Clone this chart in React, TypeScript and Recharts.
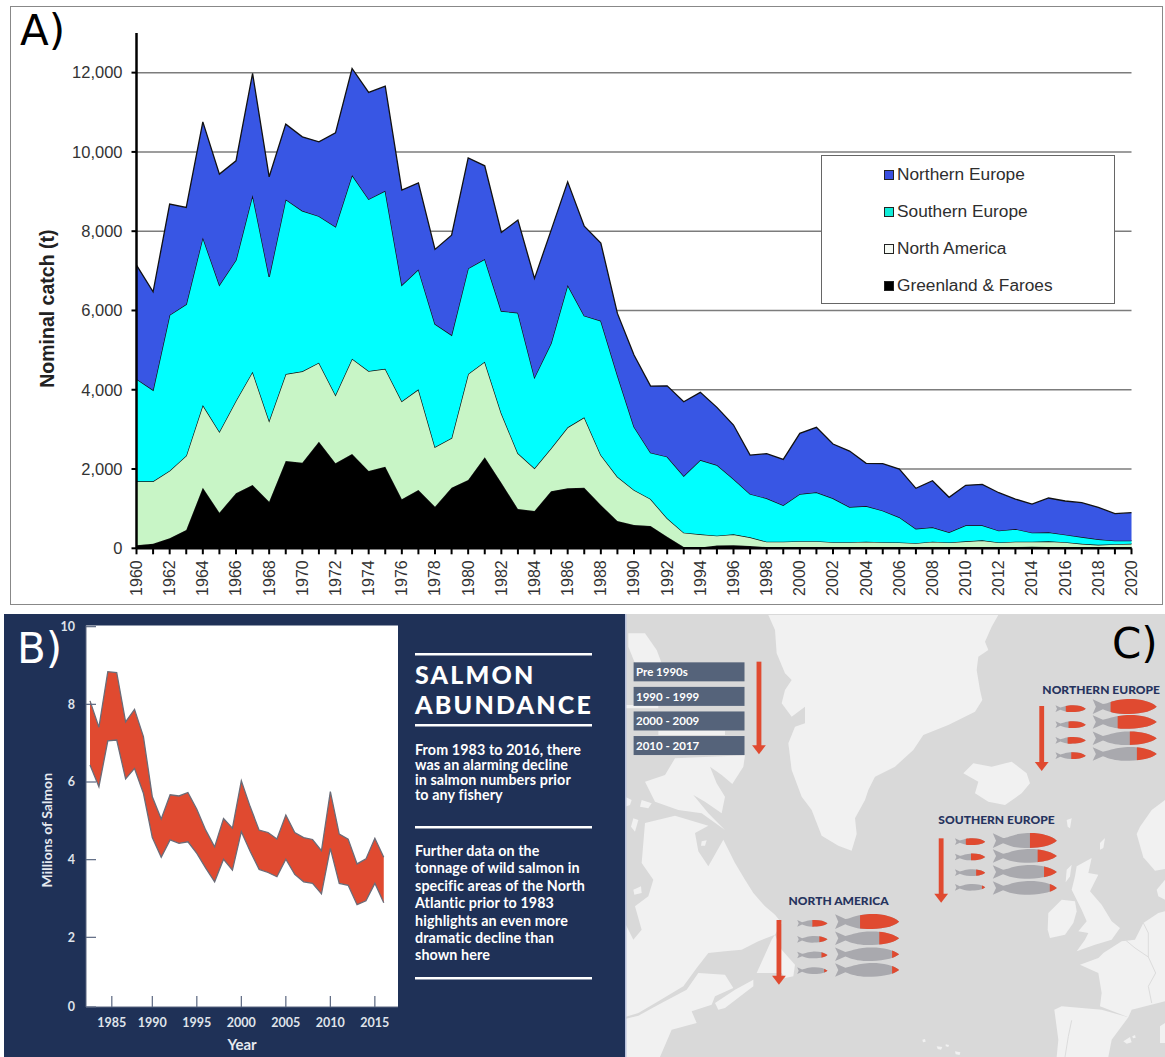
import React from "react";
import {
  AreaChart,
  Area,
  XAxis,
  YAxis,
  CartesianGrid,
  Legend,
} from "recharts";

// ---------- Panel A data (tonnes) ----------
const catchYears = [
  1960, 1961, 1962, 1963, 1964, 1965, 1966, 1967, 1968, 1969, 1970, 1971, 1972, 1973, 1974, 1975,
  1976, 1977, 1978, 1979, 1980, 1981, 1982, 1983, 1984, 1985, 1986, 1987, 1988, 1989, 1990, 1991,
  1992, 1993, 1994, 1995, 1996, 1997, 1998, 1999, 2000, 2001, 2002, 2003, 2004, 2005, 2006, 2007,
  2008, 2009, 2010, 2011, 2012, 2013, 2014, 2015, 2016, 2017, 2018, 2019, 2020,
];
const greenlandFaroes = [
  75, 116, 252, 461, 1528, 898, 1387, 1596, 1175, 2202, 2159, 2688, 2143, 2378, 1949, 2058,
  1236, 1470, 1049, 1528, 1722, 2295, 1654, 991, 941, 1437, 1513, 1528, 1092, 688, 588, 562,
  293, 30, 20, 70, 80, 55, 30, 30, 30, 30, 30, 30, 30, 30, 30, 30,
  30, 30, 30, 30, 30, 30, 40, 30, 30, 20, 20, 20, 20,
];
const northAmerica = [
  1615, 1574, 1705, 1874, 2086, 2043, 2336, 2858, 2043, 2194, 2305, 1993, 1723, 2404, 2522, 2472,
  2471, 2540, 1506, 1254, 2674, 2411, 1751, 1405, 1077, 1085, 1539, 1776, 1261, 1118, 882, 681,
  464, 363, 333, 248, 273, 222, 136, 136, 150, 150, 125, 125, 136, 125, 117, 100,
  136, 117, 145, 170, 117, 136, 126, 145, 125, 95, 70, 85, 95,
];
const southernEurope = [
  2580, 2302, 3927, 3819, 4229, 3699, 3548, 4456, 3632, 4405, 4050, 3699, 4245, 4633, 4338, 4489,
  2933, 3026, 3102, 2597, 2665, 2590, 2580, 3546, 2294, 2648, 3588, 2562, 3387, 2560, 1597, 1168,
  1553, 1430, 1874, 1782, 1395, 1092, 1095, 918, 1189, 1232, 1106, 887, 901, 793, 635, 364,
  364, 256, 405, 380, 297, 321, 227, 228, 188, 170, 137, 87, 77,
];
const northernEurope = [
  2875, 2480, 2799, 2446, 2916, 2800, 2504, 3069, 2522, 1899, 1867, 1874, 2371, 2690, 2691, 2640,
  2396, 2184, 1883, 2521, 2789, 2354, 1984, 2338, 2497, 2850, 2605, 2259, 1960, 1560, 1808, 1682,
  1790, 1874, 1707, 1456, 1362, 984, 1125, 1160, 1531, 1639, 1369, 1412, 1076, 1186, 1218, 1019,
  1175, 883, 1009, 1034, 958, 756, 724, 866, 850, 865, 807, 681, 706,
];
const catchTicks = [0, 2000, 4000, 6000, 8000, 10000, 12000];
const legendNames = ["Northern Europe", "Southern Europe", "North America", "Greenland & Faroes"];
const areaColors = ["#3856e4", "#00ffff", "#c8f5c6", "#000000"];
const legendSwatches = ["#3a4fe0", "#10ecd8", "#f6faf4", "#000000"];

const catchTable = catchYears.map((year, i) => ({
  year,
  greenland: greenlandFaroes[i],
  america: northAmerica[i],
  southern: southernEurope[i],
  northern: northernEurope[i],
}));

// ---------- Panel B data (millions of salmon) ----------
const abundanceYears = [
  1983, 1984, 1985, 1986, 1987, 1988, 1989, 1990, 1991, 1992, 1993, 1994, 1995, 1996, 1997, 1998, 1999,
  2000, 2001, 2002, 2003, 2004, 2005, 2006, 2007, 2008, 2009, 2010, 2011, 2012, 2013, 2014, 2015, 2016,
];
const abundanceHigh = [
  8.09, 7.41, 8.84, 8.82, 7.55, 7.87, 7.17, 5.62, 5.05, 5.67, 5.64, 5.73, 5.3, 4.76, 4.33, 5.06, 4.81,
  6.03, 5.36, 4.76, 4.7, 4.53, 5.15, 4.7, 4.57, 4.52, 4.23, 5.75, 4.66, 4.53, 3.89, 4.02, 4.55, 4.06,
];
const abundanceLow = [
  6.44, 5.88, 7.06, 7.08, 6.08, 6.35, 5.71, 4.57, 4.06, 4.51, 4.42, 4.46, 4.16, 3.78, 3.43, 4.01, 3.73,
  4.72, 4.21, 3.75, 3.67, 3.56, 4.01, 3.62, 3.43, 3.39, 3.12, 4.29, 3.39, 3.34, 2.84, 2.94, 3.39, 2.89,
];
const abundanceTable = abundanceYears.map((year, i) => ({
  year,
  range: [abundanceLow[i], abundanceHigh[i]],
}));
const abundanceYTicks = [0.206, 2, 4, 6, 8, 10];
const abundanceXTicks = [1985.45, 1990, 1995, 2000, 2005, 2010, 2015];

const paraOne = [
  "From 1983 to 2016, there",
  "was an alarming decline",
  "in salmon numbers prior",
  "to any fishery",
];
const paraTwo = [
  "Further data on the",
  "tonnage of wild salmon in",
  "specific areas of the North",
  "Atlantic prior to 1983",
  "highlights an even more",
  "dramatic decline than",
  "shown here",
];

// ---------- Panel C data ----------
const periods = ["Pre 1990s", "1990 - 1999", "2000 - 2009", "2010 - 2017"];
const regions = [
  {
    name: "NORTHERN EUROPE",
    labelX: 1212,
    labelY: 237,
    arrow: [1210, 288, 483],
    smallX: 1250,
    largeX: 1358,
    smallY: [296, 344, 391, 437],
    largeY: [290, 336, 385, 432],
    smallRed: [0.66, 0.57, 0.6, 0.48],
    largeRed: [0.72, 0.61, 0.42, 0.31],
  },
  {
    name: "SOUTHERN EUROPE",
    labelX: 910,
    labelY: 629,
    arrow: [918, 685, 878],
    smallX: 958,
    largeX: 1068,
    smallY: [695, 741, 788, 832],
    largeY: [692, 738, 786, 834],
    smallRed: [0.64, 0.47, 0.3, 0.11],
    largeRed: [0.42, 0.3, 0.2, 0.11],
  },
  {
    name: "NORTH AMERICA",
    labelX: 475,
    labelY: 872,
    arrow: [447, 930, 1124],
    smallX: 500,
    largeX: 610,
    smallY: [940, 988, 1035, 1082],
    largeY: [935, 985, 1033, 1080],
    smallRed: [0.5, 0.27, 0.2, 0.11],
    largeRed: [0.61, 0.31, 0.11, 0.11],
  },
];

// Map outlines: each group is drawn at (x, y) with a scale of one third.
const landNorthWest = [
  "430,15 1120,15 1100,50 1080,95 1090,120 1060,140 1055,180 1065,240 1072,270 1050,305 970,345 895,375 865,420 810,470 750,500 730,540 720,570 690,625 695,672 680,722 640,707 590,677 560,600 530,560 500,480 490,400 510,350 540,340 540,290 500,320 470,280 480,240 500,210 480,190 455,130 450,60",
  "10,70 60,70 95,120 110,160 30,160 10,110",
  "0,285 100,285 100,295 0,295",
  "100,362 300,362 300,375 100,375",
  "60,515 120,495 150,445 360,436 355,470 322,522 290,495 255,470 275,520 300,560 290,610 240,575 205,555 250,610 300,660 230,610 160,600 90,575",
  "0,560 20,570 15,585 0,590",
  "50,570 80,580 70,595 45,590",
  "25,625 40,630 30,665 18,650",
];
const landNorthAmerica = [
  "60,-30 150,-52 250,-22 210,0 220,55 250,100 295,20 330,90 360,140 385,180 420,220 450,245 470,270 450,305 400,325 350,350 300,355 250,360 215,405 175,460 100,505 40,540 0,552 0,270 25,320 50,290 30,220 70,190 85,140 50,90",
  "40,548 100,515 185,470 220,420 300,425 325,465 270,490 260,515 200,535 215,570 140,590 105,672 0,672 0,558",
  "395,420 440,320 450,305 470,350 510,395 505,430 480,435 470,420",
  "270,510 330,470 385,440 385,460 300,525 280,530",
  "230,25 245,22 240,38 228,38",
  "25,170 48,160 50,180 28,185",
];
const landNorthEast = [
  "205,490 235,460 290,470 350,455 395,490 405,520 380,550 330,585 280,575 240,550 250,515",
  "515,630 530,625 525,655 518,650",
  "810,570 770,600 735,650 725,672 745,742 780,782 810,777",
];
const landSouthEast = [
  "545,100 590,75 580,120 610,125 585,175 620,215 650,265 675,285 650,320 600,335 545,355 570,320 580,300 550,295 575,265 560,230 530,170 540,130",
  "515,110 530,95 525,130 512,148",
  "460,240 500,200 540,205 545,235 535,270 510,305 465,315 458,290",
  "555,395 610,375 625,360 680,325 720,320 745,270 790,240 810,235 810,505 710,530 700,553 615,520 620,480 610,420",
  "478,530 500,520 620,530 700,553 650,620 640,672 485,672 490,620",
  "785,170 810,140 810,200 790,190",
  "615,30 630,15 625,45 615,50",
  "795,580 810,570 810,630 795,630",
  "685,625 705,612 710,628 695,632",
  "712,610 720,606 722,614 714,616",
  "82,620 90,618 92,626 84,628",
  "125,640 142,642 138,650 128,648",
  "152,634 162,636 160,642 152,640",
  "180,655 196,658 194,666 182,664",
];
const borders = [
  "690,320 720,345 760,372 782,420 760,460 770,510",
  "530,562 520,610 510,672",
  "745,270 760,300 760,372",
];

const fishPath = (x: number, y: number, w: number, h: number) => {
  const px = (f: number) => (x + f * w).toFixed(1);
  const py = (f: number) => (y + f * h).toFixed(1);
  return `M${px(0)},${py(-0.48)} L${px(0.16)},${py(-0.17)} C${px(0.25)},${py(-0.2)} ${px(0.3)},${py(-0.42)} ${px(0.5)},${py(-0.48)} C${px(0.7)},${py(-0.54)} ${px(0.9)},${py(-0.38)} ${px(1)},${py(0)} C${px(0.9)},${py(0.38)} ${px(0.7)},${py(0.48)} ${px(0.5)},${py(0.48)} C${px(0.35)},${py(0.48)} ${px(0.25)},${py(0.32)} ${px(0.16)},${py(0.16)} L${px(0)},${py(0.48)} L${px(0.05)},${py(0)} Z`;
};

const RED = "#e04a30";
const Fish = ({ id, x, y, w, h, red }: any) => {
  const d = fishPath(x, y, w, h);
  return (
    <g>
      <clipPath id={id}>
        <rect x={x + (1 - red) * w} y={y - h} width={red * w + 2} height={h * 2} />
      </clipPath>
      <path d={d} fill="#a9a9ae" />
      <path d={d} fill={RED} clipPath={`url(#${id})`} />
    </g>
  );
};

const Arrow = ({ x, y1, y2 }: any) => (
  <g>
    <rect x={x - 7} y={y1} width={14} height={y2 - y1 - 25} fill={RED} />
    <polygon points={`${x - 20},${y2 - 27} ${x + 20},${y2 - 27} ${x},${y2}`} fill={RED} />
  </g>
);

const abs = (l: number, t: number, w: number, h: number): React.CSSProperties => ({
  position: "absolute",
  left: l,
  top: t,
  width: w,
  height: h,
});

const LegendBox = () => (
  <div
    style={{
      width: 294,
      height: 149,
      boxSizing: "border-box",
      background: "#fff",
      border: "1px solid #666",
      position: "relative",
      fontFamily: "'Liberation Sans', sans-serif",
      fontSize: 17.3,
      color: "#2e2e2e",
    }}
  >
    {legendNames.map((name, i) => (
      <div key={name} style={{ position: "absolute", left: 62, top: 18 + i * 37, height: 0 }}>
        <span
          style={{
            position: "absolute",
            left: 0,
            top: -4,
            width: 7.5,
            height: 7.5,
            border: "1.2px solid #222",
            background: legendSwatches[i],
          }}
        />
        <span style={{ position: "absolute", left: 13, top: -10, whiteSpace: "nowrap", lineHeight: "20px" }}>
          {name}
        </span>
      </div>
    ))}
  </div>
);

const YearTick = (p: any) => {
  const v = p.payload.value;
  if (v % 2 !== 0) return <g />;
  return (
    <text
      x={p.x}
      y={p.y}
      transform={`rotate(-90 ${p.x} ${p.y})`}
      textAnchor="end"
      dominantBaseline="central"
      fontFamily="'Liberation Sans', sans-serif"
      fontSize={16}
      fill="#333"
    >
      {v}
    </text>
  );
};

const lato = "Lato, 'Open Sans', sans-serif";
const mapScale = 1 / 3;

export default function App() {
  return (
    <div style={{ position: "absolute", left: 0, top: 0, width: 1165, height: 1057, overflow: "hidden", background: "#fff" }}>
      {/* Panel A */}
      <div style={{ ...abs(10, 6, 1153, 599), boxSizing: "border-box", border: "1px solid #888" }} />
      <div style={abs(0, 0, 1165, 605)}>
        <AreaChart
          width={1165}
          height={605}
          data={catchTable}
          margin={{ left: 76.5, right: 33.5, top: 33, bottom: 16.7 }}
        >
          <CartesianGrid horizontal vertical={false} syncWithTicks stroke="#7c7c7c" strokeWidth={1.5} />
          <XAxis
            dataKey="year"
            type="number"
            domain={[1960, 2020]}
            ticks={catchYears}
            interval={0}
            height={40}
            tick={<YearTick />}
            tickSize={6}
            tickMargin={6}
            axisLine={{ stroke: "#000", strokeWidth: 2.5 }}
            tickLine={{ stroke: "#000", strokeWidth: 2 }}
          />
          <YAxis
            type="number"
            domain={[0, 13000]}
            ticks={catchTicks}
            interval={0}
            width={60}
            tickFormatter={(v: number) => v.toLocaleString("en-US")}
            tick={{ fontFamily: "'Liberation Sans', sans-serif", fontSize: 16.5, fill: "#333" }}
            tickSize={5}
            tickMargin={9}
            axisLine={{ stroke: "#000", strokeWidth: 2.5 }}
            tickLine={{ stroke: "#000", strokeWidth: 2 }}
            label={{
              value: "Nominal catch (t)",
              angle: -90,
              position: "insideLeft",
              dx: -34,
              dy: 18,
              style: { fontFamily: "'Liberation Sans', sans-serif", fontSize: 19.5, fontWeight: 700, fill: "#222", textAnchor: "middle" },
            }}
          />
          <Legend
            layout="vertical"
            align="center"
            verticalAlign="middle"
            wrapperStyle={{ left: 821, top: 155, width: 294, height: 149 }}
            content={() => <LegendBox />}
          />
          <Area type="linear" dataKey="greenland" name="Greenland & Faroes" stackId="c" fill={areaColors[3]} fillOpacity={1} stroke="#111" strokeWidth={1.3} isAnimationActive={false} />
          <Area type="linear" dataKey="america" name="North America" stackId="c" fill={areaColors[2]} fillOpacity={1} stroke="#111" strokeWidth={1.3} isAnimationActive={false} />
          <Area type="linear" dataKey="southern" name="Southern Europe" stackId="c" fill={areaColors[1]} fillOpacity={1} stroke="#111" strokeWidth={1.3} isAnimationActive={false} />
          <Area type="linear" dataKey="northern" name="Northern Europe" stackId="c" fill={areaColors[0]} fillOpacity={1} stroke="#111" strokeWidth={1.3} isAnimationActive={false} />
        </AreaChart>
      </div>
      <div style={{ position: "absolute", left: 20, top: 7.5, fontFamily: "'DejaVu Sans', sans-serif", fontSize: 42, lineHeight: "46px", color: "#000" }}>A)</div>

      {/* Panel B */}
      <div style={{ ...abs(4, 614, 621, 443), background: "#1f3157" }} />
      <div style={abs(4, 614, 621, 443)}>
        <AreaChart
          width={621}
          height={443}
          data={abundanceTable}
          margin={{ left: 52, right: 227, top: 11.5, bottom: 20 }}
        >
          <CartesianGrid horizontal={false} vertical={false} fill="#ffffff" />
          <XAxis
            dataKey="year"
            type="number"
            domain={[1982.55, 2017.6]}
            ticks={abundanceXTicks}
            interval={0}
            height={30}
            tickFormatter={(v: number) => String(Math.floor(v))}
            tick={{ fontFamily: lato, fontSize: 12.5, fontWeight: 700, fill: "#dfe3ea" }}
            tickSize={-11}
            tickMargin={22}
            axisLine={{ stroke: "#5b6780", strokeWidth: 1 }}
            tickLine={{ stroke: "#5b6780", strokeWidth: 1.2 }}
            label={{
              value: "Year",
              position: "insideBottom",
              dy: 18,
              style: { fontFamily: lato, fontSize: 15, fontWeight: 700, fill: "#e6e9ef" },
            }}
          />
          <YAxis
            type="number"
            domain={[0.206, 10.03]}
            ticks={abundanceYTicks}
            interval={0}
            width={30}
            tickFormatter={(v: number) => (v < 1 ? "0" : String(v))}
            tick={{ fontFamily: lato, fontSize: 12.5, fontWeight: 700, fill: "#dfe3ea" }}
            tickSize={-10}
            tickMargin={21}
            axisLine={{ stroke: "#5b6780", strokeWidth: 1 }}
            tickLine={{ stroke: "#5b6780", strokeWidth: 1.2 }}
            label={{
              value: "Millions of Salmon",
              angle: -90,
              position: "insideLeft",
              dx: -14,
              dy: 14,
              style: { fontFamily: lato, fontSize: 14, fontWeight: 700, fill: "#e6e9ef", textAnchor: "middle" },
            }}
          />
          <Area type="linear" dataKey="range" name="Millions of Salmon" fill={RED} fillOpacity={1} stroke="#6a6c78" strokeWidth={1.3} isAnimationActive={false} />
        </AreaChart>
      </div>
      <div style={{ position: "absolute", left: 17, top: 625.5, fontFamily: "'DejaVu Sans', sans-serif", fontSize: 42, lineHeight: "46px", color: "#fff" }}>B)</div>

      <svg style={abs(0, 0, 1165, 1057)} width={1165} height={1057}>
        {[654, 725, 827, 978].map((y) => (
          <rect key={y} x={415} y={y - 1} width={177} height={2.5} fill="#fff" />
        ))}
        <g fontFamily={lato} fill="#fff">
          <text x={415} y={683.5} fontSize={25} fontWeight={900} letterSpacing={2.2}>SALMON</text>
          <text x={415} y={713.5} fontSize={25} fontWeight={900} letterSpacing={2.2}>ABUNDANCE</text>
          {paraOne.map((t, i) => (
            <text key={t} x={415} y={755 + i * 15} fontSize={14.3} fontWeight={700} letterSpacing={0.1}>{t}</text>
          ))}
          {paraTwo.map((t, i) => (
            <text key={t} x={415} y={856 + i * 17.4} fontSize={14.3} fontWeight={700} letterSpacing={0.1}>{t}</text>
          ))}
        </g>
      </svg>

      {/* Panel C */}
      <svg style={abs(625, 614, 540, 443)} width={540} height={443} viewBox="625 614 540 443">
        <rect x={625} y={614} width={540} height={443} fill="#d9d9d9" />
        <g fill="#f1f1f1">
          <g transform={`translate(625 610) scale(${mapScale})`}>
            {landNorthWest.map((pts, i) => <polygon key={i} points={pts} />)}
          </g>
          <g transform={`translate(625 833) scale(${mapScale})`}>
            {landNorthAmerica.map((pts, i) => <polygon key={i} points={pts} />)}
          </g>
          <g transform={`translate(895 610) scale(${mapScale})`}>
            {landNorthEast.map((pts, i) => <polygon key={i} points={pts} />)}
          </g>
          <g transform={`translate(895 833) scale(${mapScale})`}>
            {landSouthEast.map((pts, i) => <polygon key={i} points={pts} />)}
            {borders.map((pts, i) => <polyline key={i} points={pts} fill="none" stroke="#dcdcdc" strokeWidth={3} />)}
          </g>
        </g>
        <rect x={625} y={614} width={1.5} height={443} fill="#b9c2dc" />
      </svg>
      <svg style={abs(625, 610, 540, 447)} viewBox="0 0 1568 1341" preserveAspectRatio="none">
        <Arrow x={389} y1={155} y2={433} />
        {periods.map((p, i) => (
          <rect key={p} x={25} y={157 + i * 73.7} width={322} height={57} fill="#55637a" />
        ))}
        {regions.map((r) => (
          <g key={r.name}>
            <Arrow x={r.arrow[0]} y1={r.arrow[1]} y2={r.arrow[2]} />
            {r.smallY.map((y, i) => (
              <Fish key={`s${i}`} id={`${r.name}-s${i}`.replace(" ", "")} x={r.smallX} y={y} w={88} h={21} red={r.smallRed[i]} />
            ))}
            {r.largeY.map((y, i) => (
              <Fish key={`l${i}`} id={`${r.name}-l${i}`.replace(" ", "")} x={r.largeX} y={y} w={186} h={i === 0 ? 46 : 42} red={r.largeRed[i]} />
            ))}
          </g>
        ))}
      </svg>
      <svg style={abs(0, 0, 1165, 1057)} width={1165} height={1057}>
        <g fontFamily={lato}>
          {periods.map((p, i) => (
            <text key={p} x={636} y={676 + i * 24.6} fontSize={11.5} fontWeight={700} fill="#fff">{p}</text>
          ))}
          {regions.map((r) => (
            <text key={r.name} x={625 + r.labelX / 2.904} y={610 + r.labelY / 3 + 4.5} fontSize={12} fontWeight={900} fill="#26335e">{r.name}</text>
          ))}
        </g>
      </svg>
      <div style={{ position: "absolute", left: 1112, top: 620.5, fontFamily: "'DejaVu Sans', sans-serif", fontSize: 42, lineHeight: "46px", color: "#000" }}>C)</div>
    </div>
  );
}
